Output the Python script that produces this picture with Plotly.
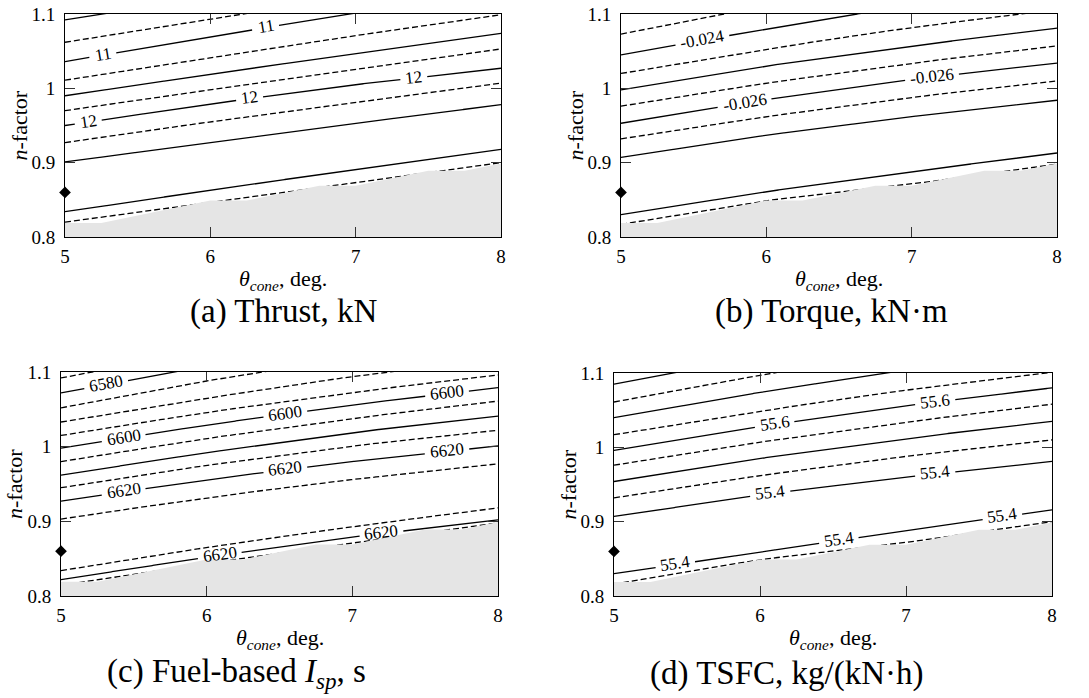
import numpy as np
import plotly.graph_objects as go

W, H = 1089, 698
FONT = "Liberation Serif, Times New Roman, serif"

# Cone angle grid on which every contour line is sampled (deg.)
THETA = [5, 6, 7, 8]

X_TICKS = [5, 6, 7, 8]
X_TICK_TEXT = ["5", "6", "7", "8"]
Y_TICKS = [0.8, 0.9, 1.0, 1.1]
Y_TICK_TEXT = ["0.8", "0.9", "1", "1.1"]

# Boundary of the infeasible region (shaded grey in every panel)
LIMIT_THETA = [5, 5.25, 6, 6.25, 6.75, 7, 7.5, 7.75, 8]
LIMIT_N = [0.819, 0.819, 0.849, 0.849, 0.869, 0.869, 0.889, 0.889, 0.899]

# Baseline design point
DESIGN_THETA = [5]
DESIGN_N = [0.86]

# (a) Thrust, kN : contour level, dashed flag and n-factor at THETA
thrust_levels = [10.5, 10.75, 11, 11.25, 11.5, 11.75, 12, 12.25, 12.5, 12.5, 12.25]
thrust_dashed = [False, True, False, True, False, True, False, True, False, False, True]
thrust_n = [
    [1.092, 1.123, 1.154, 1.184],
    [1.062, 1.093, 1.124, 1.153],
    [1.036, 1.069, 1.102, 1.133],
    [1.011, 1.041, 1.071, 1.099],
    [0.990, 1.019, 1.047, 1.074],
    [0.970, 0.998, 1.026, 1.053],
    [0.950, 0.979, 1.005, 1.027],
    [0.927, 0.955, 0.981, 1.007],
    [0.901, 0.927, 0.953, 0.978],
    [0.834, 0.863, 0.891, 0.918],
    [0.820, 0.847, 0.873, 0.900],
]
thrust_label_line = [2, 2, 6, 6, 6]
thrust_label_theta = [5.26, 6.38, 5.16, 6.27, 7.40]

# (b) Torque, kN*m
torque_levels = [-0.0235, -0.024, -0.0245, -0.025, -0.0255, -0.026, -0.0265, -0.027, -0.027, -0.0265]
torque_dashed = [True, False, True, False, True, False, True, False, False, True]
torque_n = [
    [1.073, 1.112, 1.147, 1.178],
    [1.045, 1.080, 1.112, 1.140],
    [1.020, 1.053, 1.082, 1.106],
    [0.998, 1.030, 1.057, 1.081],
    [0.976, 1.007, 1.034, 1.057],
    [0.953, 0.985, 1.012, 1.034],
    [0.932, 0.962, 0.988, 1.010],
    [0.907, 0.937, 0.962, 0.984],
    [0.830, 0.861, 0.888, 0.913],
    [0.817, 0.849, 0.871, 0.898],
]
torque_label_line = [1, 5, 5]
torque_label_theta = [5.56, 5.85, 7.14]

# (c) Fuel-based specific impulse, s
isp_levels = [6575, 6580, 6585, 6590, 6595, 6600, 6605, 6610, 6615, 6620, 6625, 6625, 6620, 6615]
isp_dashed = [True, False, True, True, True, False, True, False, True, False, True, True, False, True]
isp_n = [
    [1.092, 1.130, 1.164, 1.194],
    [1.072, 1.108, 1.140, 1.169],
    [1.052, 1.088, 1.120, 1.148],
    [1.033, 1.065, 1.094, 1.118],
    [1.015, 1.046, 1.073, 1.096],
    [0.998, 1.029, 1.056, 1.079],
    [0.980, 1.011, 1.038, 1.061],
    [0.962, 0.992, 1.019, 1.041],
    [0.945, 0.975, 1.001, 1.022],
    [0.927, 0.956, 0.980, 1.001],
    [0.903, 0.932, 0.956, 0.977],
    [0.834, 0.865, 0.893, 0.918],
    [0.822, 0.852, 0.879, 0.902],
    [0.8145, 0.8435, 0.8715, 0.898],
]
isp_label_line = [1, 5, 5, 5, 9, 9, 9, 12, 12]
isp_label_theta = [5.31, 5.43, 6.54, 7.65, 5.43, 6.54, 7.65, 6.09, 7.20]

# (d) TSFC, kg/(kN*h)
tsfc_levels = [55.8, 55.75, 55.7, 55.65, 55.6, 55.55, 55.5, 55.45, 55.4, 55.4, 55.45]
tsfc_dashed = [False, True, False, True, False, True, False, True, False, False, True]
tsfc_n = [
    [1.085, 1.123, 1.158, 1.188],
    [1.061, 1.097, 1.130, 1.158],
    [1.040, 1.074, 1.104, 1.131],
    [1.017, 1.049, 1.077, 1.101],
    [0.996, 1.028, 1.056, 1.080],
    [0.976, 1.007, 1.034, 1.058],
    [0.954, 0.985, 1.012, 1.035],
    [0.932, 0.962, 0.988, 1.010],
    [0.907, 0.936, 0.960, 0.981],
    [0.830, 0.859, 0.888, 0.916],
    [0.816, 0.849, 0.872, 0.900],
]
tsfc_label_line = [4, 4, 8, 8, 9, 9, 9]
tsfc_label_theta = [6.10, 7.20, 6.07, 7.20, 5.42, 6.54, 7.66]

# Plot boxes in pixels: left, right, top, bottom; caption centre (x, y)
panels = [
    dict(levels=thrust_levels, dashed=thrust_dashed, n=thrust_n,
         lab_line=thrust_label_line, lab_theta=thrust_label_theta,
         box=(65, 501, 14, 237), caption="(a) Thrust, kN", cap=(283, 311)),
    dict(levels=torque_levels, dashed=torque_dashed, n=torque_n,
         lab_line=torque_label_line, lab_theta=torque_label_theta,
         box=(621, 1057, 14, 237), caption="(b) Torque, kN·m", cap=(831, 311)),
    dict(levels=isp_levels, dashed=isp_dashed, n=isp_n,
         lab_line=isp_label_line, lab_theta=isp_label_theta,
         box=(61, 498, 372, 596), caption="(c) Fuel-based <i>I<sub>sp</sub></i>, s", cap=(236, 673)),
    dict(levels=tsfc_levels, dashed=tsfc_dashed, n=tsfc_n,
         lab_line=tsfc_label_line, lab_theta=tsfc_label_theta,
         box=(614, 1052, 373, 596), caption="(d) TSFC, kg/(kN·h)", cap=(786, 673)),
]

LABEL_SIZE = 17
TICK_SIZE = 19
TITLE_SIZE = 22
CAPTION_SIZE = 33


def label_width(text):
    w = 0.0
    for ch in text:
        w += 0.25 if ch == "." else 0.333 if ch == "-" else 0.5
    return w * LABEL_SIZE


fig = go.Figure()
annotations = []
axes = {}
th = np.linspace(5, 8, 1201)

common = dict(showgrid=False, zeroline=False, showline=True, linecolor="black",
              linewidth=1, mirror="ticks", ticks="inside", ticklen=10, tickwidth=1,
              tickcolor="#333333", fixedrange=True, automargin=False,
              tickfont=dict(family=FONT, size=TICK_SIZE, color="black"))

for k, p in enumerate(panels):
    sfx = "" if k == 0 else str(k + 1)
    xa, ya = "x" + sfx, "y" + sfx
    x0, x1, y0, y1 = p["box"]
    px_theta = (x1 - x0) / 3.0
    px_n = (y1 - y0) / 0.3

    axes["xaxis" + sfx] = dict(domain=[x0 / W, x1 / W], anchor=ya, range=[5, 8],
                               tickvals=X_TICKS, ticktext=X_TICK_TEXT,
                               ticklabelstandoff=2, **common)
    axes["yaxis" + sfx] = dict(domain=[1 - y1 / H, 1 - y0 / H], anchor=xa, range=[0.8, 1.1],
                               tickvals=Y_TICKS, ticktext=Y_TICK_TEXT,
                               ticklabelstandoff=5, **common)

    # contour lines, opened where an inline label sits
    for i, (lvl, dash, nv) in enumerate(zip(p["levels"], p["dashed"], p["n"])):
        nn = np.interp(th, THETA, nv)
        for li, lt in zip(p["lab_line"], p["lab_theta"]):
            if li != i:
                continue
            txt = "{:g}".format(lvl)
            slope = (np.interp(lt + 0.05, THETA, nv) - np.interp(lt - 0.05, THETA, nv)) / 0.1
            ang = np.arctan(slope * px_n / px_theta)
            half = (label_width(txt) / 2 + 5) * np.cos(ang) / px_theta
            nn[np.abs(th - lt) < half] = np.nan
            annotations.append(dict(
                x=lt, y=float(np.interp(lt, THETA, nv)), xref=xa, yref=ya,
                text=txt, showarrow=False, textangle=-np.degrees(ang),
                font=dict(family=FONT, size=LABEL_SIZE, color="black"),
                xanchor="center", yanchor="middle", yshift=1))
        fig.add_trace(go.Scatter(
            x=th, y=nn, mode="lines", xaxis=xa, yaxis=ya,
            line=dict(color="black", width=1.3, dash="6px,3px" if dash else "solid"),
            connectgaps=False, hoverinfo="skip", showlegend=False))

    # infeasible region
    fig.add_trace(go.Scatter(
        x=LIMIT_THETA + [8, 5], y=LIMIT_N + [0.8, 0.8], mode="lines",
        fill="toself", fillcolor="#e5e5e5", line=dict(width=0, color="#e5e5e5"),
        xaxis=xa, yaxis=ya, hoverinfo="skip", showlegend=False))

    # design point
    fig.add_trace(go.Scatter(
        x=DESIGN_THETA, y=DESIGN_N, mode="markers", xaxis=xa, yaxis=ya,
        marker=dict(symbol="diamond", size=9, color="black"),
        cliponaxis=False, hoverinfo="skip", showlegend=False))

    # axis titles and sub-caption
    annotations.append(dict(
        x=(x0 + x1) / 2 / W, y=1 - (y1 + 43) / H, xref="paper", yref="paper",
        text="<i>θ<sub>cone</sub></i>, deg.", showarrow=False,
        font=dict(family=FONT, size=TITLE_SIZE, color="black"),
        xanchor="center", yanchor="middle"))
    annotations.append(dict(
        x=(x0 - 46) / W, y=1 - (y0 + y1) / 2 / H, xref="paper", yref="paper",
        text="<i>n</i>-factor", showarrow=False, textangle=-90,
        font=dict(family=FONT, size=TITLE_SIZE, color="black"),
        xanchor="center", yanchor="middle"))
    annotations.append(dict(
        x=p["cap"][0] / W, y=1 - p["cap"][1] / H, xref="paper", yref="paper",
        text=p["caption"], showarrow=False,
        font=dict(family=FONT, size=CAPTION_SIZE, color="black"),
        xanchor="center", yanchor="middle"))

fig.update_layout(
    width=W, height=H, margin=dict(l=0, r=0, t=0, b=0),
    paper_bgcolor="white", plot_bgcolor="white",
    font=dict(family=FONT, color="black"),
    showlegend=False, annotations=annotations, **axes)

fig.write_html("out.html", config={"displayModeBar": False})
